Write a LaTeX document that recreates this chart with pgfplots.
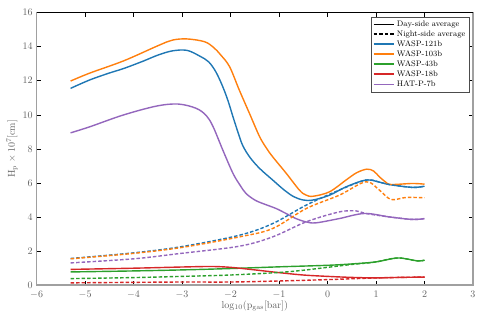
\documentclass[border=0pt]{standalone}
\usepackage{pgfplots}
\pgfplotsset{compat=1.18}
\usepackage{xcolor}

\definecolor{cblue}{HTML}{1F77B4}
\definecolor{corange}{HTML}{FF7F0E}
\definecolor{cgreen}{HTML}{2CA02C}
\definecolor{cred}{HTML}{D62728}
\definecolor{cpurple}{HTML}{9467BD}
\definecolor{axgray}{HTML}{A0A0A0}
\definecolor{txtgray}{HTML}{606060}

\tikzset{night/.style={dash pattern=on 3.5pt off 2pt}}

\begin{document}
\begin{tikzpicture}
\begin{axis}[
  name=ax,
  scale only axis,
  width=436pt, height=272.5pt,
  xmin=-6, xmax=3, ymin=0, ymax=16,
  xtick={-6,-5,...,3}, ytick={0,2,...,16},
  tick align=inside,
  major tick length=4pt,
  tick style={black, thin},
  axis line style={axgray, line width=1.6pt},
  tick label style={font=\normalsize, text=txtgray},
  xticklabel style={yshift=-2pt},
  yticklabel style={xshift=-0.5pt},
  label style={font=\normalsize, text=txtgray},
  xlabel={$\mathrm{log_{10}(p_{gas}[bar])}$},
  ylabel={$\mathrm{H_p}\times10^{7}[\mathrm{cm}]$},
  xlabel style={yshift=4pt},
  ylabel style={yshift=-2pt},
  legend style={font=\footnotesize, draw=black!70, fill=white,
    at={(0.992,0.985)}, anchor=north east, row sep=-1.2pt,
    inner sep=2pt},
  legend cell align=left,
  legend image post style={xscale=1.2},
  every axis plot/.append style={line width=1.4pt, smooth, tension=0.55},
]
\addlegendimage{black, line width=1.5pt}
\addlegendentry{Day-side average}
\addlegendimage{black, line width=1.5pt, night}
\addlegendentry{Night-side average}

% day side
\addplot[cblue] coordinates {
(-5.3,11.55) (-4.9,12.05) (-4.5,12.45) (-4.2,12.72) (-3.8,13.15) (-3.5,13.5)
(-3.2,13.75) (-2.9,13.78) (-2.64,13.45) (-2.45,13.1) (-2.3,12.5) (-2.16,11.64)
(-2.05,10.8) (-1.95,9.88) (-1.85,9.0) (-1.75,8.2) (-1.6,7.5) (-1.4,6.85)
(-1.13,6.17) (-0.9,5.6) (-0.7,5.2) (-0.5,5.0) (-0.3,5.0) (0.04,5.28)
(0.38,5.77) (0.79,6.17) (1.07,6.05) (1.27,5.91) (1.75,5.74) (2.0,5.81)};
\addlegendentry{WASP-121b}
\addplot[corange] coordinates {
(-5.3,11.98) (-4.9,12.45) (-4.2,13.17) (-3.5,14.05) (-3.2,14.38) (-2.9,14.45)
(-2.54,14.29) (-2.35,13.95) (-2.2,13.5) (-2.02,12.82) (-1.82,11.45) (-1.61,10.08)
(-1.4,8.71) (-1.25,8.0) (-1.13,7.53) (-0.85,6.56) (-0.58,5.58) (-0.45,5.3)
(-0.3,5.22) (0.04,5.48) (0.38,6.17) (0.6,6.6) (0.81,6.81) (0.95,6.7)
(1.07,6.36) (1.2,6.05) (1.31,5.91) (1.75,5.97) (2.0,5.93)};
\addlegendentry{WASP-103b}
\addplot[cgreen] coordinates {
(-5.3,0.78) (-4,0.84) (-3,0.90) (-2,0.98) (-1,1.08) (0,1.17) (0.5,1.25)
(1,1.37) (1.45,1.60) (1.85,1.43) (2,1.47)};
\addlegendentry{WASP-43b}
\addplot[cred] coordinates {
(-5.3,0.93) (-4,1.0) (-3,1.07) (-2.4,1.1) (-2,1.05) (-1.5,0.9) (-1,0.74)
(-0.5,0.6) (0,0.52) (0.5,0.46) (1,0.43) (1.5,0.46) (2,0.48)};
\addlegendentry{WASP-18b}
\addplot[cpurple] coordinates {
(-5.3,8.94) (-4.9,9.30) (-4.22,9.98) (-3.53,10.51) (-3.08,10.63) (-2.71,10.38)
(-2.5,9.95) (-2.36,9.30) (-2.16,7.93) (-1.95,6.56) (-1.8,5.85) (-1.68,5.38)
(-1.5,5.0) (-1.34,4.80) (-1.06,4.50) (-0.85,4.2) (-0.65,3.91) (-0.45,3.72)
(-0.24,3.66) (0.24,3.91) (0.76,4.21) (1.27,4.01) (1.75,3.86) (2.0,3.91)};
\addlegendentry{HAT-P-7b}

% night side
\addplot[cblue, night, forget plot] coordinates {
(-5.3,1.57) (-4,1.9) (-3,2.27) (-1.81,2.94) (-1.13,3.62) (-0.44,4.70)
(0.24,5.58) (0.79,6.17) (1.07,6.05) (1.27,5.91) (1.75,5.74) (2.0,5.81)};
\addplot[corange, night, forget plot] coordinates {
(-5.3,1.55) (-4,1.87) (-3,2.22) (-1.81,2.84) (-1.13,3.33) (-0.44,4.50)
(0.24,5.28) (0.79,6.07) (1.07,5.58) (1.31,5.03) (1.62,5.15) (2.0,5.13)};
\addplot[cgreen, night, forget plot] coordinates {
(-5.3,0.39) (-4,0.45) (-3,0.52) (-2,0.6) (-1,0.75) (-0.5,0.88) (0,1.05)
(0.5,1.22) (0.8,1.3) (1,1.37) (1.45,1.6) (1.85,1.43) (2,1.47)};
\addplot[cred, night, forget plot] coordinates {
(-5.3,0.14) (-4,0.17) (-3,0.19) (-2,0.19) (-1,0.25) (0,0.33) (1,0.43)
(1.5,0.46) (2,0.48)};
\addplot[cpurple, night, forget plot] coordinates {
(-5.3,1.31) (-4,1.55) (-3.05,1.86) (-1.82,2.29) (-1.13,2.84) (-0.44,3.72)
(0.24,4.30) (0.59,4.36) (0.79,4.21) (1.27,4.01) (1.75,3.86) (2.0,3.91)};

\draw[black, line width=0.6pt] (rel axis cs:0,1) -- (rel axis cs:1,1);
\end{axis}
\pgfresetboundingbox
\path[use as bounding box] ([shift={(-36.6pt,-37pt)}]ax.south west)
  rectangle ([shift={(10pt,12.5pt)}]ax.north east);
\end{tikzpicture}
\end{document}
